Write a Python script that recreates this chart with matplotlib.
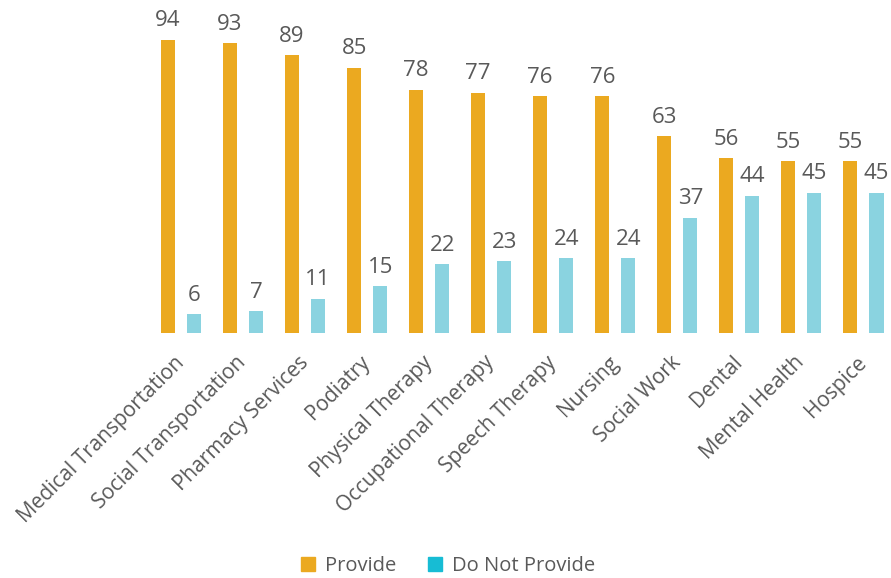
import matplotlib
matplotlib.use("Agg")
import matplotlib.pyplot as plt
from matplotlib.patches import Patch
import numpy as np

plt.rcParams["font.family"] = ["Open Sans", "DejaVu Sans"]

# 데이터
services = ["Medical Transportation", "Social Transportation", "Pharmacy Services",
            "Podiatry", "Physical Therapy", "Occupational Therapy", "Speech Therapy",
            "Nursing", "Social Work", "Dental", "Mental Health", "Hospice"]
provide = [94, 93, 89, 85, 78, 77, 76, 76, 63, 56, 55, 55]
not_provide = [6, 7, 11, 15, 22, 23, 24, 24, 37, 44, 45, 45]

ORANGE = "#EBA920"
BLUE = "#8AD3E0"
BLUE_LEG = "#17BCD4"
GRAY = "#595959"

W, H = 891, 578
fig = plt.figure(figsize=(W / 100, H / 100), dpi=100)
ax = fig.add_axes([150 / W, (H - 333) / H, (W - 150) / W, 312 / H])

x = np.arange(len(services))
bw = 0.226
off = 0.21
b1 = ax.bar(x - off, provide, bw, color=ORANGE)
b2 = ax.bar(x + off, not_provide, bw, color=BLUE)

for bars in (b1, b2):
    for b in bars:
        ax.annotate(f"{b.get_height():.0f}",
                    (b.get_x() + b.get_width() / 2, b.get_height()),
                    xytext=(0, 6), textcoords="offset points",
                    ha="center", va="bottom", fontsize=16, color=GRAY)

ax.set_xlim(-0.5, (W - 181.5) / 62)
ax.set_ylim(0, 100)
ax.set_xticks(x)
ax.set_xticklabels(services, rotation=45, ha="right", va="center",
                   rotation_mode="anchor", fontsize=15, color=GRAY)
ax.tick_params(axis="x", length=0, pad=19)
ax.set_yticks([])
for s in ax.spines.values():
    s.set_visible(False)

handles = [Patch(color=ORANGE, label="Provide"),
           Patch(color=BLUE_LEG, label="Do Not Provide")]
fig.legend(handles=handles, loc="center", bbox_to_anchor=(448 / W, 1 - 566 / H),
           ncol=2, frameon=False, fontsize=14.5, labelcolor=GRAY,
           handlelength=0.7, handleheight=0.7, handletextpad=0.5,
           columnspacing=1.6)

fig.savefig("out.png", dpi=100)
